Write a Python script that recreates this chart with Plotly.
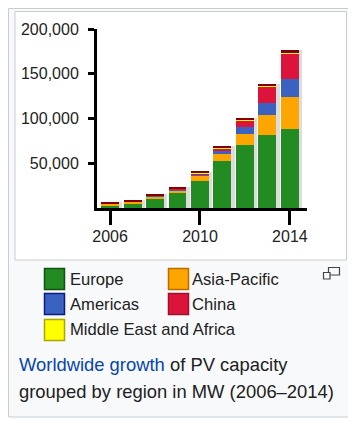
import numpy as np
import plotly.graph_objects as go

years = [2006, 2007, 2008, 2009, 2010, 2011, 2012, 2013, 2014]
europe = [3300, 5300, 10600, 16400, 30500, 52800, 70500, 81500, 88500]
asia_pacific = [1300, 1600, 2600, 3400, 5800, 8000, 12000, 22000, 36000]
americas = [500, 700, 1000, 1200, 1600, 2600, 7800, 13500, 19800]
china = [100, 100, 150, 300, 800, 3500, 7000, 18600, 28000]
mea = [100, 100, 100, 200, 500, 800, 1200, 1500, 1800]
rest_of_world = [1000, 1300, 1400, 1500, 1500, 1500, 1800, 2000, 2000]

series = [
    ("Europe", europe, "#228b22", "#145214"),
    ("Asia-Pacific", asia_pacific, "#ffa500", "#b86e00"),
    ("Americas", americas, "#3a62c0", "#0a1a80"),
    ("China", china, "#dc143c", "#a0102c"),
    ("Middle East and Africa", mea, "#ffff00", "#a8a800"),
    ("Rest of world", rest_of_world, "#800000", "#800000"),
]

y_ticks = [50000, 100000, 150000, 200000]
x_ticks = [2006, 2010, 2014]

# page is 356x421 but the body has an 8px margin
PAGE_W, PAGE_H, OFF = 356, 421, 8
W, H = PAGE_W - OFF, PAGE_H - OFF
L, R, T, B = 97, 307, 29, 208  # plot area in page px
PW, PH = R - L, B - T


def px(x):
    return (x - L) / PW


def py(y):
    return (B - y) / PH


fig = go.Figure()

totals = np.sum([np.array(s[1]) for s in series], axis=0)
# light shadow to the right of each bar
fig.add_trace(go.Bar(x=years, y=totals, width=0.8, offset=-0.25,
                     marker=dict(color="#dcdcdc", line=dict(width=0)),
                     hoverinfo="skip", showlegend=False))

base = np.zeros(len(years))
for name, vals, col, _ in series:
    v = np.array(vals)
    fig.add_trace(go.Bar(x=years, y=v, base=base.copy(), width=0.8, name=name,
                         marker=dict(color=col, line=dict(width=0)),
                         showlegend=False))
    base = base + v

shapes = []
# outer frame (caption box)
shapes.append(dict(type="rect", xref="paper", yref="paper", layer="below",
                   x0=px(8.5), x1=px(352), y0=py(8.5), y1=py(417),
                   fillcolor="#f8f9fa", line=dict(color="#c8ccd1", width=1)))
# inner white frame for chart
shapes.append(dict(type="rect", xref="paper", yref="paper", layer="below",
                   x0=px(15), x1=px(346.5), y0=py(11.5), y1=py(260),
                   fillcolor="#ffffff", line=dict(color="#c8ccd1", width=1)))

annotations = []
legend_pos = [
    (44, 279, 68),   # Europe
    (168, 279, 190),  # Asia-Pacific
    (44, 304, 68),   # Americas
    (168, 304, 190),  # China
    (44, 330, 68),   # MEA
]
for (name, vals, col, edge), (sx, cy, tx) in zip(series[:5], legend_pos):
    shapes.append(dict(type="rect", xref="paper", yref="paper",
                       x0=px(sx + 0.5), x1=px(sx + 20.5), y0=py(cy - 10.5), y1=py(cy + 10.5),
                       fillcolor=col, line=dict(color=edge, width=1.5)))
    annotations.append(dict(text=name, xref="paper", yref="paper",
                            x=px(tx), y=py(cy), xanchor="left", yanchor="middle",
                            showarrow=False,
                            font=dict(size=16.6, color="#202122",
                                      family="Arial, Liberation Sans, sans-serif")))

# magnify icon
shapes.append(dict(type="rect", xref="paper", yref="paper",
                   x0=px(328.5), x1=px(339.5), y0=py(267.5), y1=py(275),
                   fillcolor="rgba(0,0,0,0)", line=dict(color="#444", width=1.2)))
shapes.append(dict(type="rect", xref="paper", yref="paper",
                   x0=px(323.5), x1=px(330), y0=py(272.5), y1=py(279),
                   fillcolor="#f8f9fa", line=dict(color="#444", width=1.2)))

cap_font = dict(size=18.4, color="#202122", family="Arial, Liberation Sans, sans-serif")
annotations.append(dict(text="<span style='color:#0645ad'>Worldwide growth</span> of PV capacity",
                        xref="paper", yref="paper", x=px(17), y=py(364),
                        xanchor="left", yanchor="middle", showarrow=False, font=cap_font))
annotations.append(dict(text="grouped by region in MW (2006–2014)",
                        xref="paper", yref="paper", x=px(17), y=py(391),
                        xanchor="left", yanchor="middle", showarrow=False, font=cap_font))

axis_font = dict(size=16, color="#222222", family="Arial, Liberation Sans, sans-serif")
fig.update_layout(
    width=W, height=H,
    margin=dict(l=L - OFF, r=PAGE_W - R, t=T - OFF, b=PAGE_H - B, pad=0),
    paper_bgcolor="#ffffff", plot_bgcolor="rgba(0,0,0,0)",
    barmode="overlay", bargap=0,
    shapes=shapes, annotations=annotations,
    showlegend=False,
    xaxis=dict(range=[2005.42, 2014.76], tickvals=x_ticks, ticktext=[str(t) for t in x_ticks],
               ticks="outside", ticklen=14, tickwidth=3, tickcolor="#000",
               showline=True, linewidth=3, linecolor="#000", showgrid=False, zeroline=False,
               tickfont=axis_font, ticklabelstandoff=-2, fixedrange=True),
    yaxis=dict(range=[0, 200000], tickvals=y_ticks, tickformat=",d",
               ticks="outside", ticklen=6, tickwidth=3, tickcolor="#000",
               showline=True, linewidth=3, linecolor="#000", showgrid=False, zeroline=False,
               tickfont=axis_font, ticklabelstandoff=6, fixedrange=True),
)

fig.write_html("out.html", config={"displayModeBar": False})
